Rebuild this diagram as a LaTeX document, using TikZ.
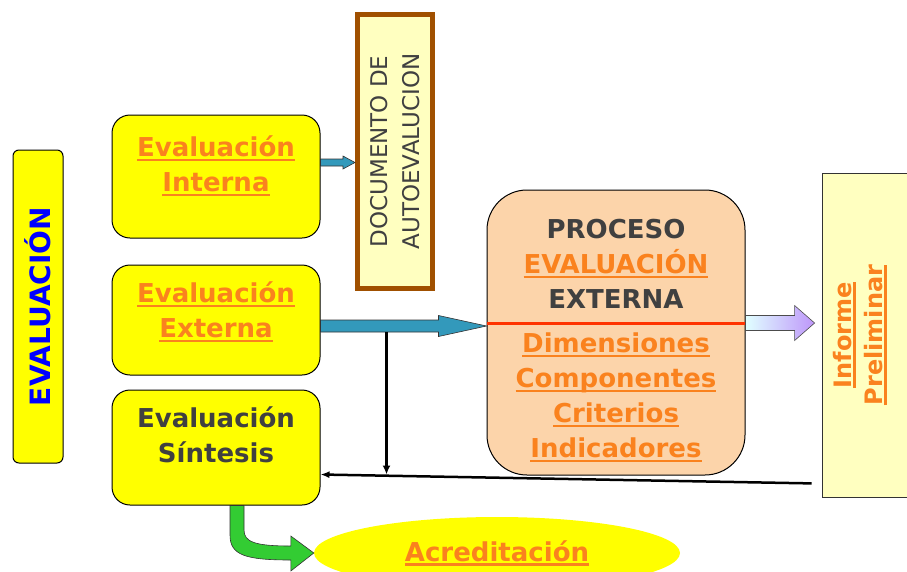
\documentclass[tikz,border=0pt]{standalone}
\usepackage{fontspec}
\setmainfont{DejaVu Sans}
\usetikzlibrary{arrows.meta,positioning,calc,shapes.geometric}
\definecolor{ybg}{RGB}{255,255,0}
\definecolor{lyel}{RGB}{255,255,192}
\definecolor{orangetxt}{RGB}{250,130,30}
\definecolor{dgray}{RGB}{64,64,64}
\definecolor{peach}{RGB}{252,212,170}
\definecolor{docbrown}{RGB}{160,80,0}
\definecolor{tealarr}{RGB}{51,153,187}
\definecolor{greenarr}{RGB}{51,204,51}
\definecolor{redline}{RGB}{255,51,0}
\newcommand{\ulor}[1]{{\color{orangetxt}\setbox0\hbox{#1}\rlap{\rule[-4.5pt]{\wd0}{2.2pt}}\box0}}
\newcommand{\blkarrow}[6]{\path[#1] let \p1=(#2), \p2=(#3) in
  (\x1,\y1+#4) -- (\x2-#6,\y1+#4) -- (\x2-#6,\y1+#5) -- (\x2,\y1) -- (\x2-#6,\y1-#5) -- (\x2-#6,\y1-#4) -- (\x1,\y1-#4) -- cycle;}

\begin{document}
\begin{tikzpicture}[x=1pt,y=-1pt,
    ybox/.style={rectangle,draw,line width=1pt,rounded corners=18pt,fill=ybg,minimum width=208pt,align=center,text=dgray,text depth=25pt,font=\fontsize{26pt}{35pt}\selectfont\bfseries},
    vbox/.style={rectangle,rotate=90,align=center},
    tealarrow/.style={draw=black!80,fill=tealarr,line width=0.6pt},
    gradarrow/.style={draw=black!70,left color=cyan!12,right color={rgb,255:red,190;green,150;blue,250},line width=0.6pt},
    >=Latex]
    \useasboundingbox (0,0) rectangle (907,571);
    \node[vbox,draw,line width=1pt,rounded corners=6pt,fill=ybg,minimum width=313pt,minimum height=50pt,text=blue,font=\fontsize{28pt}{30pt}\selectfont\bfseries] (eval) at (38,306.5) {EVALUACIÓN};
    \node[ybox,minimum height=123pt] (inter) at (216,176.5) {\ulor{Evaluación}\\\ulor{Interna}};
    \node[ybox,minimum height=110pt,text depth=20pt] (ext) at (216,320) {\ulor{Evaluación}\\\ulor{Externa}};
    \node[ybox,minimum height=115pt] (sint) at (216,447.5) {Evaluación\\Síntesis};
    \node[vbox,draw=docbrown,line width=5pt,fill=lyel,minimum width=274pt,minimum height=75pt,text=dgray,font=\fontsize{23pt}{32pt}\selectfont] (doc) at (395,151.5) {DOCUMENTO DE\\AUTOEVALUCION};
    \node[rectangle,draw,line width=1pt,rounded corners=40pt,fill=peach,minimum width=258pt,minimum height=285pt,align=center,text=dgray,font=\fontsize{26pt}{35pt}\selectfont\bfseries] (proc) at (616,332.5)
      {\rule{0pt}{35pt}PROCESO\\\ulor{EVALUACIÓN}\\EXTERNA\\[9pt]\ulor{Dimensiones}\\\ulor{Componentes}\\\ulor{Criterios}\\\ulor{Indicadores}};
    \node[vbox,draw=black!80,line width=0.8pt,fill=lyel,minimum width=324pt,minimum height=88pt,text depth=17pt,font=\fontsize{24pt}{31pt}\selectfont\bfseries] (inf) at (866,335) {\ulor{Informe}\\\ulor{Preliminar}};
    \node[ellipse,fill=ybg,minimum width=366pt,minimum height=72pt,font=\fontsize{26pt}{35pt}\selectfont\bfseries] (acr) at (497,553) {\ulor{Acreditación}};
    % linea roja y flechas
    \draw[redline,line width=3pt] ($(proc.west)+(0,-9.5)$) -- ($(proc.east)+(0,-9.5)$);
    \blkarrow{tealarrow}{$(inter.east)+(0,-14)$}{doc.north}{3.5pt}{6.5pt}{12pt}
    \blkarrow{tealarrow}{$(ext.east)+(0,6)$}{proc.west}{6pt}{10.5pt}{48pt}
    \blkarrow{gradarrow}{$(proc.east)+(0,-9.5)$}{$(inf.north)+(-7,0)$}{7.5pt}{17.5pt}{20pt}
    \coordinate (fbst) at ($(inf.north west)+(-10,-14)$);
    \coordinate (fben) at ($(sint.east)+(0,27)$);
    \coordinate (jn) at ($(ext.east)+(66,12)$);
    \draw[-{Latex[length=9pt,width=7pt]},line width=2.5pt] (fbst) -- (fben);
    \draw[-{Latex[length=9pt,width=8pt]},line width=2.3pt] (jn) -- (jn |- fben);
    \filldraw[fill=greenarr,draw=black!80,line width=0.6pt] let \p1=($(sint.south)+(21,0)$), \p2=(acr.west) in
      (\x1-7pt,\y1) -- (\x1-7pt,\y2+18pt) .. controls (\x1-7pt,\y2-2pt) and (\x1+8pt,\y2-7pt) .. (\x2-23pt,\y2-7pt)
      -- (\x2-23pt,\y2-18pt) -- (\x2,\y2) -- (\x2-23pt,\y2+17pt) -- (\x2-23pt,\y2+7pt)
      .. controls (\x1+18pt,\y2+7pt) and (\x1+7pt,\y2+11pt) .. (\x1+7pt,\y2+23pt) -- (\x1+7pt,\y1) -- cycle;
\end{tikzpicture}
\end{document}
